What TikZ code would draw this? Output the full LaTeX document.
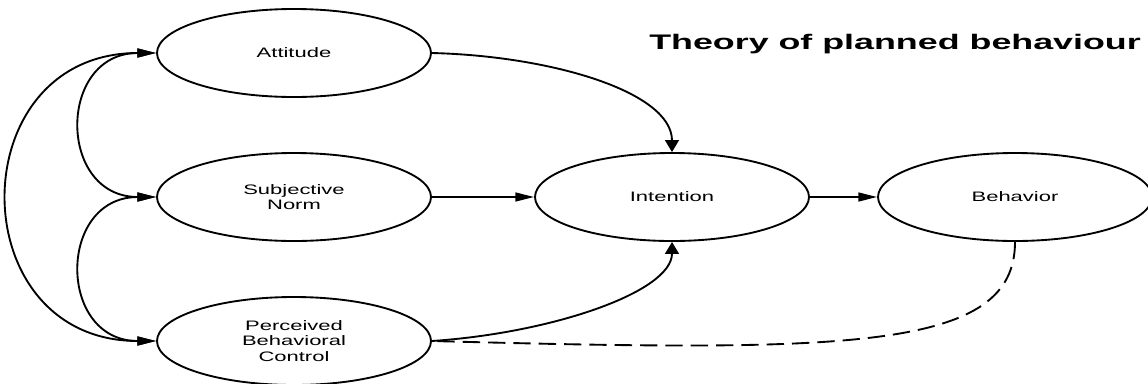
\documentclass[tikz,border=0pt]{standalone}
\usepackage{fontspec}
\setmainfont{Liberation Sans}
\newfontfamily\ovalfont[FakeStretch=1.6]{Liberation Sans}
\newfontfamily\titlefont[FakeStretch=1.7]{Liberation Sans}
\usetikzlibrary{arrows.meta,shapes.geometric}

\tikzset{
  oval/.style={ellipse, draw, line width=1.4pt, minimum width=205.5pt,
    minimum height=66pt, inner sep=0pt, align=center,
    font=\ovalfont\fontsize{10.3}{11.6}\selectfont},
  link/.style={line width=1.4pt},
  htip/.tip={Triangle[length=14pt,width=6.6pt]},
  vtip/.tip={Triangle[length=9pt,width=10.4pt]},
}

\begin{document}
\begin{tikzpicture}[x=0.75pt,y=0.75pt]
    \useasboundingbox (0,0) rectangle (1148,-383);

    % Beliefs
    \node[oval] (att) at (294,-53) {Attitude};
    \node[oval] (sn) at (294,-197) {Subjective\\Norm};
    \node[oval] (pbc) at (294,-341) {Perceived\\Behavioral\\Control};

    % Intention and behavior
    \node[oval] (int) at (672,-197) {Intention};
    \node[oval] (beh) at (1015,-197) {Behavior};

    % Title
    \node[font=\titlefont\bfseries\fontsize{15.8}{19}\selectfont, anchor=base]
        (title) at (895,-49) {Theory of planned behaviour};

    % Correlations
    \draw[link,{htip}-{htip}] (att.west) .. controls +(-99,0) and +(-99,0) .. (sn.west);
    \draw[link,{htip}-{htip}] (sn.west) .. controls +(-99,0) and +(-99,0) .. (pbc.west);
    \draw[link,{htip}-{htip}] (att.west) .. controls +(-196,0) and +(-196,0) .. (pbc.west);

    % Arrows
    \draw[link,-{vtip}] (att.east) .. controls +(120,-3) and +(0,60) .. (int.north);
    \draw[link,-{htip}] (sn) -- (int);
    \draw[link,-{vtip}] (pbc.east) .. controls +(120,8) and +(0,-50) .. (int.south);
    \draw[link,-{htip}] (int) -- (beh);
    \draw[link,dash pattern=on 13pt off 6pt] (beh.south) .. controls +(0,-109) and +(418,-11) .. (pbc.east);
\end{tikzpicture}
\end{document}
